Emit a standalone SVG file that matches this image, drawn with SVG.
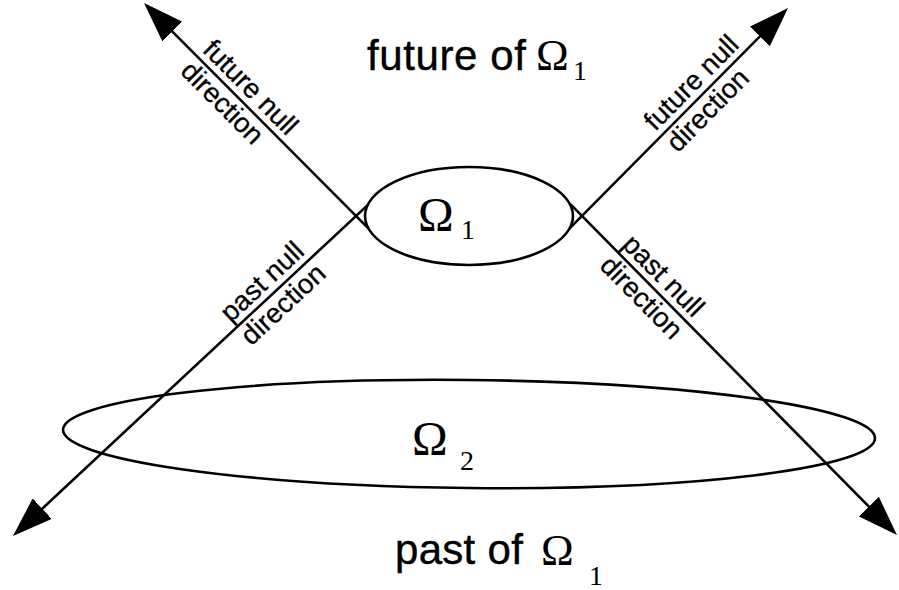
<svg xmlns="http://www.w3.org/2000/svg" width="899" height="590" viewBox="0 0 899 590">
<style>
.ln{stroke:#000;stroke-width:2.6;fill:none}
.el{stroke:#000;stroke-width:2.6;fill:none}
.lbl{font-family:"Liberation Sans",Arial,sans-serif;font-size:27.5px;fill:#000;stroke:#000;stroke-width:0.3;text-anchor:middle}
.big{font-family:"Liberation Sans",Arial,sans-serif;font-size:42px;fill:#000;stroke:#000;stroke-width:0.4}
.om{font-family:"Liberation Serif","Times New Roman",serif;font-size:44px;fill:#000}
.sub{font-family:"Liberation Serif","Times New Roman",serif;font-size:28px;fill:#000}
</style>
<defs>
<marker id="ah" markerUnits="userSpaceOnUse" viewBox="0 -14 40 28" refX="10" refY="0" markerWidth="40" markerHeight="28" orient="auto">
<path d="M0,-14 L40,0 L0,14 Z" fill="#000"/>
</marker>
</defs>
<g id="connectors">
<path class="ln" d="M368.4,228.4 L165.2,24.3" marker-end="url(#ah)"/>
<path class="ln" d="M367.4,205.4 L34.9,515.5" marker-end="url(#ah)"/>
<path class="ln" d="M569.6,228.4 L766.9,29.3" marker-end="url(#ah)"/>
<path class="ln" d="M570.6,204.4 L875.9,513.7" marker-end="url(#ah)"/>
</g>
<g id="omega1">
<ellipse class="el" cx="469" cy="216" rx="104" ry="49"/>
<text class="om" x="418" y="231" style="font-size:48px">Ω</text>
<text class="sub" x="461" y="239">1</text>
</g>
<g id="omega2">
<ellipse class="el" cx="469" cy="434" rx="406" ry="54" transform="rotate(0.6 469 434)"/>
<text class="om" x="412" y="455" style="font-size:48px">Ω</text>
<text class="sub" x="460" y="470">2</text>
</g>
<g id="future-label">
<text class="big" x="367" y="70" style="letter-spacing:0.6px">future of</text>
<text class="om" x="536" y="70">Ω</text>
<text class="sub" x="573" y="80">1</text>
</g>
<g id="past-label">
<text class="big" x="395" y="564" style="letter-spacing:0.3px">past of</text>
<text class="om" x="541" y="565">Ω</text>
<text class="sub" x="589" y="585">1</text>
</g>
<g id="label-tl" transform="translate(240,99.5) rotate(45.1)">
<text class="lbl" x="-1" y="-7">future null</text>
<text class="lbl" x="-10" y="24">direction</text>
</g>
<g id="label-tr" transform="translate(700,96.8) rotate(-45.3)">
<text class="lbl" x="4" y="-7">future null</text>
<text class="lbl" x="-4" y="24">direction</text>
</g>
<g id="label-bl" transform="translate(273,293.5) rotate(-43)">
<text class="lbl" x="0" y="-7">past null</text>
<text class="lbl" x="0" y="24">direction</text>
</g>
<g id="label-br" transform="translate(652,287) rotate(45.3)">
<text class="lbl" x="0" y="-7">past null</text>
<text class="lbl" x="0" y="24">direction</text>
</g>
</svg>
